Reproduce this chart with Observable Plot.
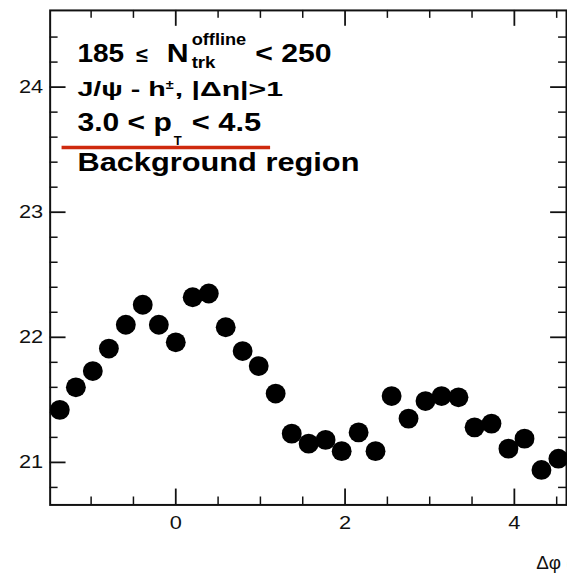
<!DOCTYPE html>
<html><head><meta charset="utf-8">
<script src="https://cdn.jsdelivr.net/npm/d3@7"></script>
<script src="https://cdn.jsdelivr.net/npm/@observablehq/plot@0.6"></script>
<style>
html,body{margin:0;padding:0;background:#fff;}
#wrap{width:567px;height:577px;overflow:hidden;position:relative;background:#fff;}
#pad{position:absolute;left:0;top:0;width:1px;height:1px;}
</style></head><body><div id="wrap"></div><div id="pad"></div>
<script>
// Δφ bin centres and pair yields
const dphi = [-1.37,-1.18,-0.98,-0.79,-0.59,-0.39,-0.20,0.00,0.20,0.39,0.59,0.79,0.98,1.18,1.37,1.57,1.77,1.96,2.16,2.36,2.55,2.75,2.95,3.14,3.34,3.53,3.73,3.93,4.12,4.32,4.52];
const pairs = [21.42,21.60,21.73,21.91,22.10,22.26,22.10,21.96,22.32,22.35,22.08,21.89,21.77,21.55,21.23,21.15,21.18,21.09,21.24,21.09,21.53,21.35,21.49,21.53,21.52,21.28,21.31,21.11,21.19,20.94,21.03];
const xMajorTicks = [0, 2, 4];
const xMinorTicks = [-1, -0.5, 0.5, 1, 1.5, 2.5, 3, 3.5, 4.5];
const yMajorTicks = [21, 22, 23, 24];
const yMinorTicks = [20.8,21.2,21.4,21.6,21.8,22.2,22.4,22.6,22.8,23.2,23.4,23.6,23.8,24.2,24.4];
const xDomain = [-1.484, 4.616];
const yDomain = [20.66, 24.613];
const xTitle = "Δφ (rad)";
// annotation text segments (layout in pixels)
const annotation = [
  {t:"185", x:78, y:62, s:26, w:47},
  {t:"≤", x:137, y:62, s:21, w:12},
  {t:"N", x:168, y:62, s:26, w:22},
  {t:"offline", x:193, y:45, s:16, w:55},
  {t:"trk", x:193, y:68, s:16, w:24},
  {t:"< 250", x:257, y:62, s:26, w:77},
  {t:"J/ψ - h", x:78, y:97, s:20, w:89},
  {t:"±", x:167, y:90, s:13, w:8},
  {t:", |Δη|>1", x:176, y:97, s:20, w:109},
  {t:"3.0 < p", x:78, y:132, s:26, w:95},
  {t:"T", x:175, y:146, s:13, w:8},
  {t:"< 4.5", x:193, y:132, s:26, w:70},
  {t:"Background region", x:78, y:172, s:26, w:284}
];

const data = dphi.map((x, i) => ({x, y: pairs[i]}));
const font = "'Liberation Sans', Arial, Helvetica, sans-serif";
const ink = "#111";
// plot frame geometry (pixels)
const W = 571, H = 577, mL = 50, mR = 1, mT = 10, mB = 69;
const perPxX = (xDomain[1] - xDomain[0]) / (W - mL - mR);
const perPxY = (yDomain[1] - yDomain[0]) / (H - mT - mB);
const MAJ = 16, MIN = 8;

const xTicks = (ticks, len, sw) => [
  Plot.ruleX(ticks, {x: d => d, y1: yDomain[0], y2: yDomain[0] + len * perPxY, stroke: ink, strokeWidth: sw}),
  Plot.ruleX(ticks, {x: d => d, y1: yDomain[1], y2: yDomain[1] - len * perPxY, stroke: ink, strokeWidth: sw})
];
const yTicks = (ticks, len, sw) => [
  Plot.ruleY(ticks, {y: d => d, x1: xDomain[0], x2: xDomain[0] + len * perPxX, stroke: ink, strokeWidth: sw}),
  Plot.ruleY(ticks, {y: d => d, x1: xDomain[1], x2: xDomain[1] - len * perPxX, stroke: ink, strokeWidth: sw})
];

const plot = Plot.plot({
  width: W, height: H,
  marginLeft: mL, marginRight: mR, marginTop: mT, marginBottom: mB,
  style: {fontFamily: font, fontSize: "18px", color: ink, background: "white"},
  x: {domain: xDomain},
  y: {domain: yDomain},
  marks: [
    ...xTicks(xMajorTicks, MAJ, 1.8),
    ...xTicks(xMinorTicks, MIN, 1.5),
    ...yTicks(yMajorTicks, MAJ, 1.8),
    ...yTicks(yMinorTicks, MIN, 1.5),
    Plot.axisX({anchor: "bottom", ticks: xMajorTicks, tickSize: 0, tickPadding: 11, tickFormat: d => String(d), label: null}),
    Plot.axisY({anchor: "left", ticks: yMajorTicks, tickSize: 0, tickPadding: 7, tickFormat: d => String(d), label: null}),
    Plot.frame({stroke: ink, strokeWidth: 2}),
    Plot.dot(data, {x: "x", y: "y", r: 10, fill: "black", stroke: null})
  ]
});
document.getElementById("wrap").append(plot);
const svg = d3.select(plot);

// put stroke styles directly on each tick line (and fold the group offset in)
plot.querySelectorAll('g[aria-label="rule"]').forEach(gr => {
  const m = /translate\(([-\d.]+),\s*([-\d.]+)\)/.exec(gr.getAttribute("transform") || "");
  const dx = m ? +m[1] : 0, dy = m ? +m[2] : 0;
  const st = gr.getAttribute("stroke") || ink, sw = gr.getAttribute("stroke-width") || "1.5";
  gr.removeAttribute("transform");
  gr.querySelectorAll("line").forEach(l => {
    l.setAttribute("x1", +l.getAttribute("x1") + dx);
    l.setAttribute("x2", +l.getAttribute("x2") + dx);
    l.setAttribute("y1", +l.getAttribute("y1") + dy);
    l.setAttribute("y2", +l.getAttribute("y2") + dy);
    l.setAttribute("stroke", st);
    l.setAttribute("stroke-width", sw);
  });
});

// widen tick labels to match the stretched look of the reference
svg.selectAll('g[aria-label$="tick label"] text').each(function() {
  if (!this.textContent) return;
  const len = this.getComputedTextLength();
  this.setAttribute("textLength", (len * 1.22).toFixed(1));
  this.setAttribute("lengthAdjust", "spacingAndGlyphs");
});

// annotation block
const note = svg.append("g").attr("font-family", font).attr("font-weight", "bold")
  .attr("fill", "black").attr("text-anchor", "start");
note.selectAll("text").data(annotation).join("text")
  .attr("x", d => d.x).attr("y", d => d.y)
  .attr("font-size", d => d.s)
  .attr("textLength", d => d.w).attr("lengthAdjust", "spacingAndGlyphs")
  .text(d => d.t);
svg.append("line").attr("x1", 62).attr("x2", 272).attr("y1", 148.5).attr("y2", 148.5)
  .attr("stroke", "#cf2a0e").attr("stroke-width", 3.5);

// x-axis title, cut by the right edge as in the reference
svg.append("text").attr("x", 540).attr("y", 573).attr("font-family", font)
  .attr("text-anchor", "start").attr("font-size", 19).attr("fill", ink).text(xTitle);
</script></body></html>
